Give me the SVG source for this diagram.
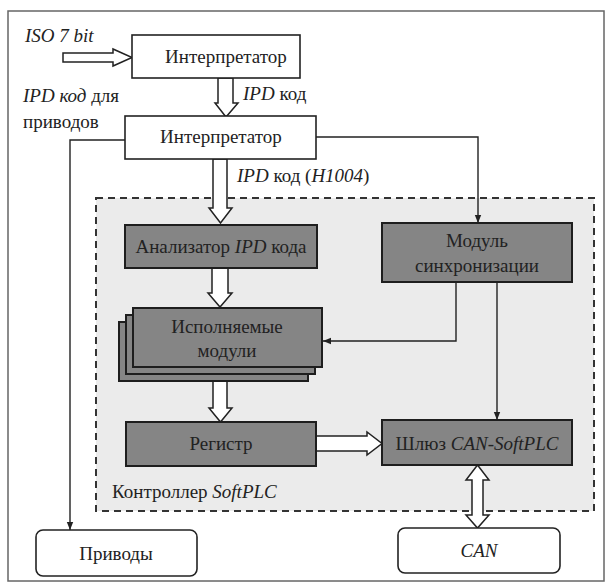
<svg xmlns="http://www.w3.org/2000/svg" width="608" height="585" viewBox="0 0 608 585" font-family="'Liberation Serif', 'Times New Roman', serif">
<defs>
<marker id="ah" viewBox="0 0 10 10" refX="10" refY="5" markerWidth="8" markerHeight="8" markerUnits="userSpaceOnUse" orient="auto">
<path d="M0,1 L10,5 L0,9 Z" fill="#222"/>
</marker>
<style>
text{font-family:"Liberation Serif","Times New Roman",serif;font-size:19px;fill:#222}
.c{text-anchor:middle}
.i{font-style:italic}
.wbox{fill:#fff;stroke:#222;stroke-width:1.6}
.gbox{fill:#858585;stroke:#1e1e1e;stroke-width:2}
.blk{fill:#fff;stroke:#222;stroke-width:1.5;stroke-linejoin:miter}
.thin{fill:none;stroke:#222;stroke-width:1.4}
</style>
</defs>
<rect x="0" y="0" width="608" height="585" fill="#fff"/>
<rect x="8" y="11" width="596" height="570" fill="#fff" stroke="#666" stroke-width="1.5"/>
<g id="softplc">
<rect x="96" y="198" width="498" height="313" fill="#ebebeb" stroke="#333" stroke-width="2" stroke-dasharray="7,5"/>
<text x="112" y="498">Контроллер <tspan class="i">SoftPLC</tspan></text>
</g>
<g id="labels">
<text x="25" y="42" class="i">ISO 7 bit</text>
<text x="243" y="100"><tspan class="i">IPD</tspan> код</text>
<text x="23" y="102"><tspan class="i">IPD код</tspan> для</text>
<text x="23" y="128">приводов</text>
<text x="237" y="182"><tspan class="i">IPD</tspan> код (<tspan class="i">H1004</tspan>)</text>
</g>
<g id="connectors">
<polygon class="blk" points="63,53 113,53 113,49 132,57.5 113,66 113,62 63,62"/>
<polygon class="blk" points="218,78 233,78 233,103 238,103 226,117 215,103 218,103"/>
<polygon class="blk" points="213,159 227,159 227,208 232,208 220.5,223 209,208 213,208"/>
<polygon class="blk" points="212,268 228,268 228,293 232,293 220,307 208,293 212,293"/>
<polygon class="blk" points="220.5,367 232,381 227,381 227,408 232,408 220.5,422 209,408 213,408 213,381 209,381"/>
<polygon class="blk" points="316,436 367,436 367,432 382,443.5 367,455 367,451 316,451"/>
<polygon class="blk" points="477.5,465 489,480 483,480 483,515 489,515 477.5,528 466,515 472,515 472,480 466,480"/>
<polyline class="thin" points="125,140 70,140 70,530" marker-end="url(#ah)"/>
<polyline class="thin" points="316,137 478,137 478,223" marker-end="url(#ah)"/>
<polyline class="thin" points="456,282 456,341 323,341" marker-end="url(#ah)"/>
<polyline class="thin" points="497,282 497,420" marker-end="url(#ah)"/>
</g>
<g id="interp1">
<rect class="wbox" x="132" y="35" width="168" height="43"/>
<text x="226" y="63" class="c">Интерпретатор</text>
</g>
<g id="interp2">
<rect class="wbox" x="125" y="116" width="191" height="43"/>
<text x="221" y="143" class="c">Интерпретатор</text>
</g>
<g id="analyzer">
<rect class="gbox" x="125" y="225" width="192" height="43"/>
<text x="221" y="253" class="c">Анализатор <tspan class="i">IPD</tspan> кода</text>
</g>
<g id="sync">
<rect class="gbox" x="382" y="223" width="190" height="59"/>
<text x="477" y="247" class="c">Модуль</text>
<text x="477" y="272" class="c">синхронизации</text>
</g>
<g id="exec">
<rect class="gbox" x="119" y="322" width="189" height="59"/>
<rect class="gbox" x="126" y="315" width="189" height="59"/>
<rect class="gbox" x="133" y="308" width="189" height="59"/>
<text x="227" y="333" class="c">Исполняемые</text>
<text x="227" y="357" class="c">модули</text>
</g>
<g id="register">
<rect class="gbox" x="126" y="422" width="190" height="44"/>
<text x="221" y="450" class="c">Регистр</text>
</g>
<g id="gateway">
<rect class="gbox" x="382" y="420" width="190" height="45"/>
<text x="477" y="450" class="c">Шлюз <tspan class="i">CAN-SoftPLC</tspan></text>
</g>
<g id="drives">
<rect class="wbox" x="36" y="530" width="161" height="46" rx="7"/>
<text x="116" y="560" class="c">Приводы</text>
</g>
<g id="can">
<rect class="wbox" x="398" y="528" width="162" height="45" rx="7"/>
<text x="479" y="557" class="c i">CAN</text>
</g>
</svg>
